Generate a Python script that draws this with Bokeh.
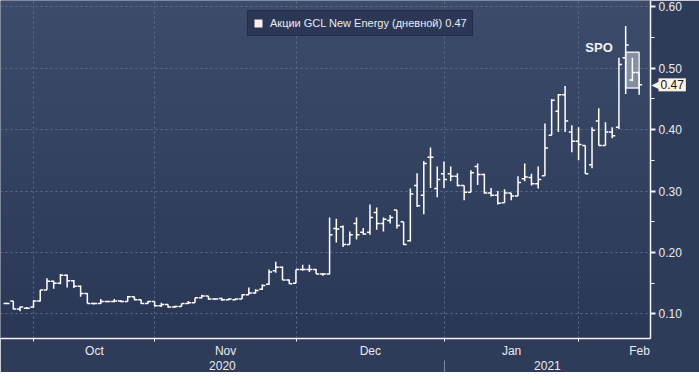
import numpy as np
from bokeh.plotting import figure
from bokeh.models import (Range1d, LinearAxis, FixedTicker, SingleIntervalTicker,
                          NumeralTickFormatter, Label, Legend, LegendItem, ColumnDataSource)
from bokeh.embed import file_html
from bokeh.resources import INLINE

# ---- data (daily OHLC, GCL New Energy, late Sep 2020 - Feb 2021) ----
opens = [0.117, 0.121, 0.108, 0.109, 0.111, 0.121, 0.139, 0.153, 0.150, 0.163,
         0.154, 0.145, 0.133, 0.117, 0.117, 0.120, 0.120, 0.121, 0.120, 0.128,
         0.123, 0.117, 0.120, 0.113, 0.115, 0.111, 0.112, 0.117, 0.118, 0.126,
         0.129, 0.124, 0.125, 0.123, 0.123, 0.124, 0.131, 0.134, 0.140, 0.148,
         0.170, 0.176, 0.155, 0.150, 0.172, 0.172, 0.172, 0.165, 0.165, 0.239,
         0.242, 0.213, 0.247, 0.233, 0.233, 0.265, 0.247, 0.252, 0.269, 0.250,
         0.219, 0.309, 0.293, 0.355, 0.304, 0.328, 0.328, 0.324, 0.309, 0.298,
         0.340, 0.327, 0.297, 0.293, 0.281, 0.297, 0.292, 0.320, 0.322, 0.312,
         0.325, 0.391, 0.430, 0.457, 0.396, 0.381, 0.374, 0.343, 0.414, 0.374,
         0.396, 0.404, 0.517, 0.481, 0.493]
highs = [0.118, 0.121, 0.112, 0.111, 0.122, 0.139, 0.158, 0.154, 0.165, 0.164,
         0.155, 0.146, 0.134, 0.118, 0.124, 0.121, 0.124, 0.122, 0.129, 0.128,
         0.123, 0.121, 0.120, 0.118, 0.115, 0.113, 0.117, 0.121, 0.126, 0.131,
         0.129, 0.125, 0.126, 0.125, 0.125, 0.132, 0.143, 0.140, 0.148, 0.172,
         0.185, 0.177, 0.156, 0.172, 0.180, 0.180, 0.173, 0.166, 0.257, 0.255,
         0.244, 0.234, 0.257, 0.240, 0.278, 0.273, 0.257, 0.261, 0.269, 0.250,
         0.304, 0.329, 0.349, 0.371, 0.340, 0.348, 0.340, 0.329, 0.309, 0.334,
         0.345, 0.328, 0.305, 0.300, 0.303, 0.297, 0.324, 0.345, 0.328, 0.340,
         0.410, 0.450, 0.458, 0.471, 0.407, 0.404, 0.374, 0.404, 0.435, 0.412,
         0.404, 0.517, 0.569, 0.517, 0.493]
lows = [0.116, 0.107, 0.104, 0.108, 0.110, 0.120, 0.139, 0.141, 0.148, 0.143,
        0.142, 0.128, 0.117, 0.115, 0.116, 0.119, 0.119, 0.119, 0.120, 0.122,
        0.116, 0.116, 0.112, 0.111, 0.110, 0.110, 0.112, 0.116, 0.118, 0.125,
        0.123, 0.123, 0.121, 0.122, 0.122, 0.124, 0.131, 0.133, 0.139, 0.147,
        0.167, 0.155, 0.149, 0.150, 0.170, 0.168, 0.165, 0.162, 0.164, 0.216,
        0.209, 0.213, 0.221, 0.229, 0.229, 0.237, 0.234, 0.247, 0.239, 0.212,
        0.218, 0.274, 0.262, 0.305, 0.290, 0.305, 0.316, 0.308, 0.285, 0.298,
        0.310, 0.296, 0.291, 0.278, 0.281, 0.285, 0.292, 0.316, 0.309, 0.304,
        0.325, 0.391, 0.396, 0.396, 0.363, 0.350, 0.328, 0.337, 0.374, 0.374,
        0.386, 0.401, 0.458, 0.479, 0.457]
closes = [0.117, 0.108, 0.111, 0.109, 0.121, 0.139, 0.153, 0.150, 0.163, 0.154,
          0.145, 0.133, 0.117, 0.117, 0.120, 0.120, 0.121, 0.120, 0.128, 0.123,
          0.117, 0.120, 0.113, 0.115, 0.111, 0.112, 0.117, 0.118, 0.126, 0.129,
          0.124, 0.124, 0.123, 0.124, 0.124, 0.131, 0.134, 0.138, 0.146, 0.168,
          0.176, 0.155, 0.149, 0.172, 0.172, 0.172, 0.165, 0.165, 0.229, 0.238,
          0.213, 0.229, 0.229, 0.230, 0.257, 0.247, 0.254, 0.257, 0.244, 0.213,
          0.295, 0.276, 0.345, 0.355, 0.319, 0.319, 0.324, 0.309, 0.298, 0.330,
          0.327, 0.297, 0.293, 0.280, 0.297, 0.292, 0.314, 0.323, 0.312, 0.319,
          0.370, 0.448, 0.457, 0.414, 0.381, 0.376, 0.328, 0.399, 0.374, 0.396,
          0.390, 0.506, 0.538, 0.493, 0.473]

month_names = ["Oct", "Nov", "Dec", "Jan", "Feb"]
month_start_idx = [5, 23, 44, 66, 86, 104]   # first trading-day index of each month (Mar last)
year_names = ["2020", "2021"]
y_ticks_interval = 0.1

spo_text = "SPO"
spo_box_left, spo_box_right = [92], [94]
spo_box_bottom, spo_box_top = [0.468], [0.526]
spo_label_x, spo_label_y = 86.0, 0.534

series_name = "Акции GCL New Energy (дневной)"

# ---- derived ----
n = len(closes)
idx = list(range(n))
x_start, x_end = -0.905, 95.69
y_start, y_end = 0.0598, 0.6104

boundaries = [s - 0.95 for s in month_start_idx]
month_label_pos = [round((boundaries[i] + boundaries[i + 1]) / 2, 3) for i in range(len(month_names))]
jan_boundary = boundaries[3]
year_label_pos = [round((x_start + jan_boundary) / 2, 3), round((jan_boundary + x_end) / 2, 3)]

src = ColumnDataSource(dict(x=idx, o=opens, h=highs, l=lows, c=closes,
                            xl=[i - 0.45 for i in idx], xr=[i + 0.45 for i in idx]))

FONT = "Liberation Sans"
TXT = "#e9ebf0"
GRID = "#5d6d8f"
FW, FH = 650, 338

p = figure(frame_width=FW, frame_height=FH, x_range=Range1d(x_start, x_end), y_range=Range1d(y_start, y_end),
           y_axis_location="right", output_backend="svg", toolbar_location=None,
           min_border_left=0, min_border_top=0, min_border_right=0, min_border_bottom=0)
p.background_fill_color = "#344262"
p.border_fill_color = "#2e3b59"
p.outline_line_color = None

# vertical gradient background
N = 64
top = np.array([62, 76, 107]); bot = np.array([42, 56, 86])
img = np.zeros((N, 1), dtype=np.uint32)
view = img.view(dtype=np.uint8).reshape((N, 1, 4))
for r in range(N):
    t = r / (N - 1)
    col = bot * (1 - t) + top * t
    view[r, 0, :3] = col.astype(np.uint8)
    view[r, 0, 3] = 255
p.image_rgba(image=[img], x=x_start, y=y_start, dw=x_end - x_start, dh=y_end - y_start, level="image")

# SPO box
p.quad(left=spo_box_left, right=spo_box_right, bottom=spo_box_bottom, top=spo_box_top,
       fill_color="#c3c8d4", fill_alpha=0.55, line_color="#e6e8ee", line_width=1.5)

# OHLC bars
p.segment(x0="x", y0="l", x1="x", y1="h", source=src, line_color="white", line_width=1.5)
p.segment(x0="xl", y0="o", x1="x", y1="o", source=src, line_color="white", line_width=1.5)
p.segment(x0="x", y0="c", x1="xr", y1="c", source=src, line_color="white", line_width=1.5)

# legend swatch: zero-area quad at the last close (invisible in the plot, square in the legend)
dummy = p.quad(left=[idx[-1]], right=[idx[-1]], bottom=[closes[-1]], top=[closes[-1]],
               fill_color="#fbf0f0", line_color=None)
legend = Legend(items=[LegendItem(label=f"{series_name} {closes[-1]:.2f}", renderers=[dummy])],
                location=(247, FH - 10 - 26), orientation="horizontal",
                label_text_font=FONT, label_text_font_size="11px", label_text_color=TXT,
                background_fill_color="#2b3754", background_fill_alpha=1.0,
                border_line_color="#19203a", border_line_width=1.5,
                padding=5, margin=0, spacing=0, label_height=14, glyph_height=10, glyph_width=10,
                label_standoff=7)
p.add_layout(legend)

# SPO label
p.add_layout(Label(x=spo_label_x, y=spo_label_y, text=spo_text, text_font=FONT, text_font_size="13px",
                   text_font_style="bold", text_color="#f2f2f4", text_baseline="middle", text_align="left"))

# grids
p.ygrid.ticker = SingleIntervalTicker(interval=y_ticks_interval)
p.ygrid.grid_line_color = GRID
p.ygrid.grid_line_dash = "2 3"
p.xgrid.ticker = FixedTicker(ticks=boundaries[:5])
p.xgrid.grid_line_color = GRID
p.xgrid.grid_line_dash = "2 3"

# y axis (right)
ya = p.yaxis[0]
ya.ticker = SingleIntervalTicker(interval=y_ticks_interval, num_minor_ticks=2)
ya.formatter = NumeralTickFormatter(format="0.00")
ya.axis_line_color = "#f4f4f4"; ya.axis_line_width = 1.5
ya.major_tick_in = 0; ya.major_tick_out = 5; ya.major_tick_line_color = "#f4f4f4"; ya.major_tick_line_width = 2
ya.minor_tick_in = 0; ya.minor_tick_out = 4; ya.minor_tick_line_color = "#f4f4f4"
ya.major_label_text_font = FONT; ya.major_label_text_font_size = "12px"; ya.major_label_text_color = TXT
ya.major_label_standoff = 3

# x axis: month labels + boundary ticks
xa = p.xaxis[0]
xa.ticker = FixedTicker(ticks=month_label_pos, minor_ticks=boundaries[:5])
xa.major_label_overrides = {pos: name for pos, name in zip(month_label_pos, month_names)}
xa.axis_line_color = "#f4f4f4"; xa.axis_line_width = 1.5
xa.major_tick_in = 0; xa.major_tick_out = 0
xa.minor_tick_in = 0; xa.minor_tick_out = 3; xa.minor_tick_line_color = "#f4f4f4"
xa.major_label_text_font = FONT; xa.major_label_text_font_size = "12px"; xa.major_label_text_color = TXT
xa.major_label_standoff = 2

# year axis
yr = LinearAxis(ticker=FixedTicker(ticks=year_label_pos, minor_ticks=[jan_boundary]))
yr.major_label_overrides = {pos: name for pos, name in zip(year_label_pos, year_names)}
yr.axis_line_color = None
yr.major_tick_in = 0; yr.major_tick_out = 0
yr.minor_tick_in = 0; yr.minor_tick_out = 16; yr.minor_tick_line_color = "#7f8aa3"
yr.major_label_text_font = FONT; yr.major_label_text_font_size = "12px"; yr.major_label_text_color = TXT
yr.major_label_standoff = -16
p.add_layout(yr, "below")

# last price tag on the axis (side-panel labels are not clipped to the frame)
p.add_layout(Label(x=x_end, y=closes[-1], x_offset=1, text="\u25C0", text_font="DejaVu Sans",
                   text_font_size="10px", text_color="#fdf3e4", text_baseline="middle", text_align="left"),
             "right")
p.add_layout(Label(x=x_end, y=closes[-1], x_offset=8, text=f"{closes[-1]:.2f}", text_font=FONT,
                   text_font_size="12px", text_color="#141414", text_baseline="middle", text_align="left",
                   background_fill_color="#fdf3e4", padding=2), "right")

open("out.html", "w").write(file_html(p, INLINE))
